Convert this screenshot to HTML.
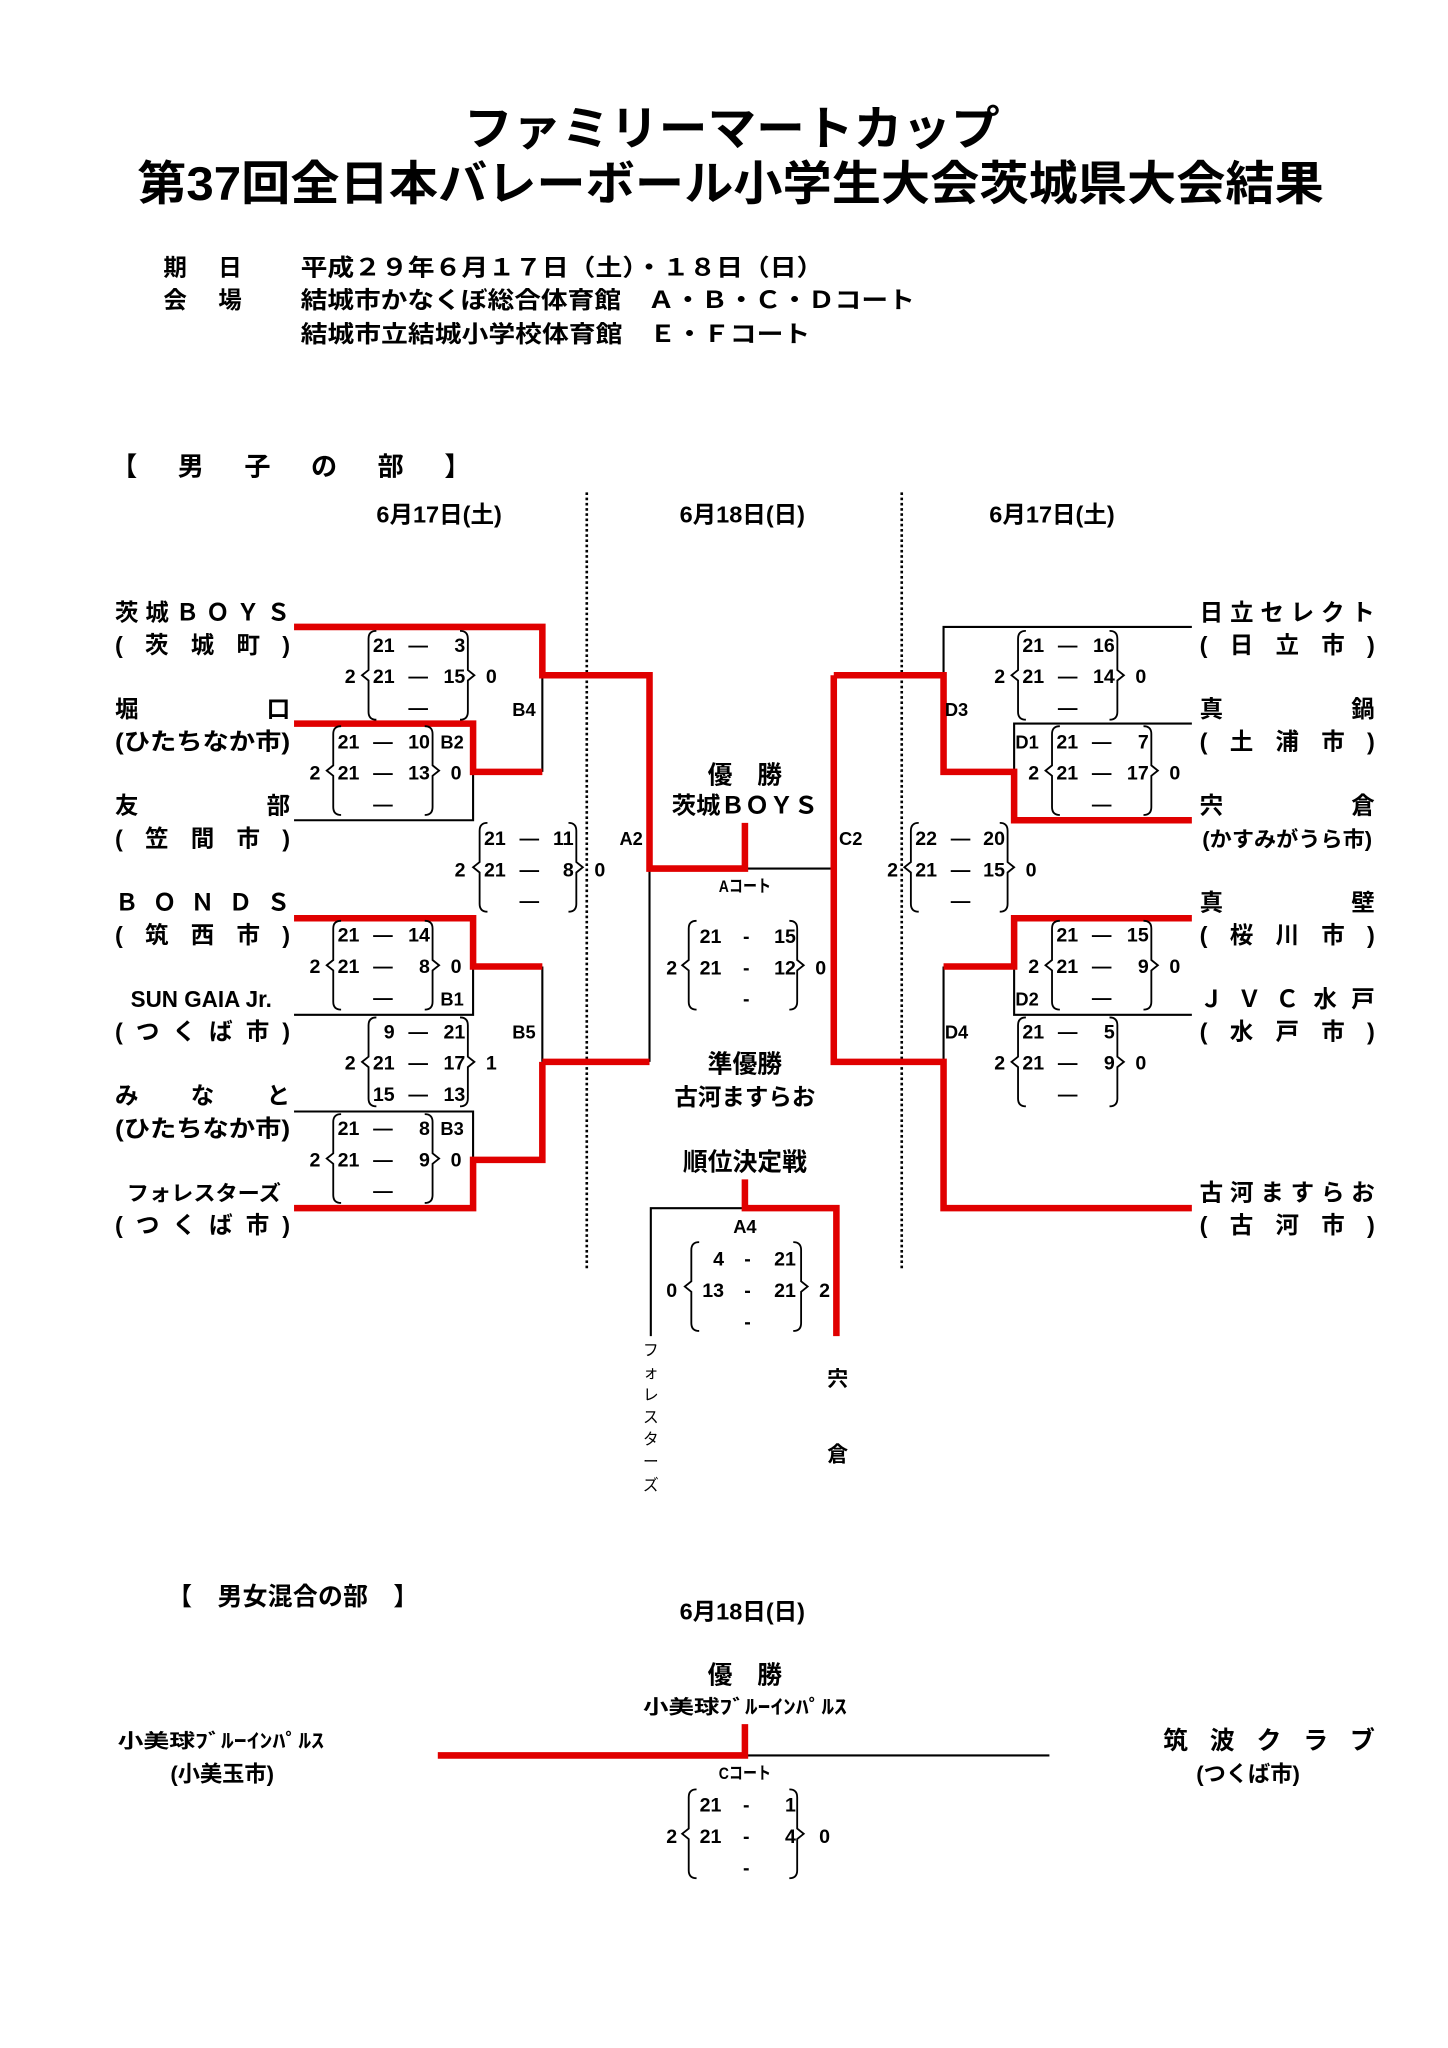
<!DOCTYPE html>
<html><head><meta charset="utf-8"><style>
html,body{margin:0;padding:0;background:#fff}
svg{display:block}
text{font-family:"Liberation Sans","Noto Sans CJK JP",sans-serif;fill:#000}
.t{font-weight:bold}
.s{font-size:15px;font-weight:bold}
.n{font-size:18px;font-weight:bold}
.lb{font-size:14px;font-weight:bold}
</style></head><body>
<svg width="1448" height="2048" viewBox="0 0 1108 1568" preserveAspectRatio="none" xmlns="http://www.w3.org/2000/svg">
<defs>
<path id="lbr" d="M8,0 Q2,0 2,6 L2,30 L-3,34 L2,38 L2,62 Q2,68 8,68" fill="none" stroke="#000" stroke-width="1.4"/>
<path id="rbr" d="M-8,0 Q-2,0 -2,6 L-2,30 L3,34 L-2,38 L-2,62 Q-2,68 -8,68" fill="none" stroke="#000" stroke-width="1.4"/>
</defs>

<text class="t" x="560" y="111" font-size="36" text-anchor="middle" textLength="410" lengthAdjust="spacingAndGlyphs">ファミリーマートカップ</text>
<text class="t" x="559" y="153" font-size="36" text-anchor="middle" textLength="908" lengthAdjust="spacingAndGlyphs">第37回全日本バレーボール小学生大会茨城県大会結果</text>

<text class="t" x="125" y="211" font-size="18" textLength="60" lengthAdjust="spacing">期　日</text>
<text class="t" x="230" y="211" font-size="18" textLength="400" lengthAdjust="spacingAndGlyphs">平成２９年６月１７日（土）・１８日（日）</text>
<text class="t" x="125" y="236" font-size="18" textLength="60" lengthAdjust="spacing">会　場</text>
<text class="t" x="230" y="236" font-size="18" textLength="470" lengthAdjust="spacingAndGlyphs">結城市かなくぼ総合体育館　Ａ・Ｂ・Ｃ・Ｄコート</text>
<text class="t" x="230" y="262" font-size="18" textLength="390" lengthAdjust="spacingAndGlyphs">結城市立結城小学校体育館　Ｅ・Ｆコート</text>

<text class="t" x="85" y="364" font-size="20" textLength="275" lengthAdjust="spacing">【　男　子　の　部　】</text>

<text class="n" x="336" y="400" text-anchor="middle">6月17日(土)</text>
<text class="n" x="568" y="400" text-anchor="middle">6月18日(日)</text>
<text class="n" x="805" y="400" text-anchor="middle">6月17日(土)</text>

<line x1="449" y1="377" x2="449" y2="972" stroke="#000" stroke-width="2" stroke-dasharray="2,2"/>
<line x1="690" y1="377" x2="690" y2="972" stroke="#000" stroke-width="2" stroke-dasharray="2,2"/>

<g class="n" font-size="18">
<text x="88" y="475" textLength="134" lengthAdjust="spacing" font-weight="bold">茨城ＢＯＹＳ</text>
<text x="88" y="500" textLength="134" lengthAdjust="spacing" font-weight="bold">(　茨　城　町　)</text>
<text x="88" y="549" textLength="134" lengthAdjust="spacing" font-weight="bold">堀　　　　　口</text>
<text x="88" y="574" textLength="134" lengthAdjust="spacingAndGlyphs" font-weight="bold">(ひたちなか市)</text>
<text x="88" y="623" textLength="134" lengthAdjust="spacing" font-weight="bold">友　　　　　部</text>
<text x="88" y="648" textLength="134" lengthAdjust="spacing" font-weight="bold">(　笠　間　市　)</text>
<text x="88" y="697" textLength="134" lengthAdjust="spacing" font-weight="bold">Ｂ　Ｏ　Ｎ　Ｄ　Ｓ</text>
<text x="88" y="722" textLength="134" lengthAdjust="spacing" font-weight="bold">(　筑　西　市　)</text>
<text x="100" y="771" textLength="108" lengthAdjust="spacingAndGlyphs" font-weight="bold">SUN GAIA Jr.</text>
<text x="88" y="796" textLength="134" lengthAdjust="spacing" font-weight="bold">(　つ　く　ば　市　)</text>
<text x="88" y="845" textLength="134" lengthAdjust="spacing" font-weight="bold">み　　な　　と</text>
<text x="88" y="870" textLength="134" lengthAdjust="spacingAndGlyphs" font-weight="bold">(ひたちなか市)</text>
<text x="97" y="919" textLength="118" lengthAdjust="spacingAndGlyphs" font-weight="bold" font-size="16">フォレスターズ</text>
<text x="88" y="944" textLength="134" lengthAdjust="spacing" font-weight="bold">(　つ　く　ば　市　)</text>
</g>

<g>
<text x="918" y="475" textLength="134" lengthAdjust="spacing" font-weight="bold" font-size="18">日　立　セ　レ　ク　ト</text>
<text x="918" y="500" textLength="134" lengthAdjust="spacing" font-weight="bold" font-size="18">(　日　立　市　)</text>
<text x="918" y="549" textLength="134" lengthAdjust="spacing" font-weight="bold" font-size="18">真　　　　　鍋</text>
<text x="918" y="574" textLength="134" lengthAdjust="spacing" font-weight="bold" font-size="18">(　土　浦　市　)</text>
<text x="918" y="623" textLength="134" lengthAdjust="spacing" font-weight="bold" font-size="18">宍　　　　　倉</text>
<text x="920" y="648" textLength="130" lengthAdjust="spacingAndGlyphs" font-weight="bold" font-size="16">(かすみがうら市)</text>
<text x="918" y="697" textLength="134" lengthAdjust="spacing" font-weight="bold" font-size="18">真　　　　　壁</text>
<text x="918" y="722" textLength="134" lengthAdjust="spacing" font-weight="bold" font-size="18">(　桜　川　市　)</text>
<text x="918" y="771" textLength="134" lengthAdjust="spacing" font-weight="bold" font-size="18">Ｊ　Ｖ　Ｃ　水　戸</text>
<text x="918" y="796" textLength="134" lengthAdjust="spacing" font-weight="bold" font-size="18">(　水　戸　市　)</text>
<text x="918" y="919" textLength="134" lengthAdjust="spacing" font-weight="bold" font-size="18">古　河　ま　す　ら　お</text>
<text x="918" y="944" textLength="134" lengthAdjust="spacing" font-weight="bold" font-size="18">(　古　河　市　)</text>
</g>

<g stroke="#000" stroke-width="1.6" fill="none">
<path d="M415,517 V591"/>
<path d="M225,628 H362 V591"/>
<path d="M497,665 V813"/>
<path d="M415,740 V813"/>
<path d="M225,777 H362 V740"/>
<path d="M225,851 H362 V888"/>
<path d="M570,665 H638"/>
<path d="M498,1023 V925 H570"/>
<path d="M912,480 H722 V517"/>
<path d="M912,554 H776 V591"/>
<path d="M722,740 V813"/>
<path d="M912,777 H776 V740"/>
<path d="M570,1344 H803"/>
</g>

<g stroke="#e00000" stroke-width="5" fill="none" stroke-linejoin="miter">
<path d="M225,480 H415 V517 H497 V665 H570 V630"/>
<path d="M225,554 H362 V591 H415"/>
<path d="M225,703 H362 V740 H415"/>
<path d="M415,813 H497"/>
<path d="M415,813 V888 H362 V925 H225"/>
<path d="M570,903 V925 H640 V1023"/>
<path d="M638,517 H722 V591 H776 V628 H912"/>
<path d="M638,517 V813 H722 V925 H912"/>
<path d="M912,703 H776 V740 H722"/>
<path d="M335,1344 H570 V1320"/>
</g>

<g class="lb">
<text x="392" y="548">B4</text>
<text x="337" y="573">B2</text>
<text x="474" y="647">A2</text>
<text x="337" y="770">B1</text>
<text x="392" y="795">B5</text>
<text x="337" y="869">B3</text>
<text x="723" y="548">D3</text>
<text x="777" y="573">D1</text>
<text x="642" y="647">C2</text>
<text x="777" y="770">D2</text>
<text x="723" y="795">D4</text>
<text x="570" y="944" text-anchor="middle">A4</text>
</g>
<text x="570" y="683" text-anchor="middle" font-size="13" font-weight="bold" textLength="40" lengthAdjust="spacingAndGlyphs">Aコート</text>

<g>
<use href="#lbr" x="280" y="483"/><use href="#rbr" x="360" y="483"/>
<g class="s"><text x="302" y="499" text-anchor="end">21</text><text x="320" y="499" text-anchor="middle">—</text><text x="356" y="499" text-anchor="end">3</text>
<text x="302" y="523" text-anchor="end">21</text><text x="320" y="523" text-anchor="middle">—</text><text x="356" y="523" text-anchor="end">15</text>
<text x="320" y="547" text-anchor="middle">—</text><text x="268" y="523" text-anchor="middle">2</text><text x="376" y="523" text-anchor="middle">0</text></g>
<use href="#lbr" x="253" y="556"/><use href="#rbr" x="333" y="556"/>
<g class="s"><text x="275" y="573" text-anchor="end">21</text><text x="293" y="573" text-anchor="middle">—</text><text x="329" y="573" text-anchor="end">10</text>
<text x="275" y="597" text-anchor="end">21</text><text x="293" y="597" text-anchor="middle">—</text><text x="329" y="597" text-anchor="end">13</text>
<text x="293" y="621" text-anchor="middle">—</text><text x="241" y="597" text-anchor="middle">2</text><text x="349" y="597" text-anchor="middle">0</text></g>
<use href="#lbr" x="365" y="630"/><use href="#rbr" x="443" y="630"/>
<g class="s"><text x="387" y="647" text-anchor="end">21</text><text x="405" y="647" text-anchor="middle">—</text><text x="439" y="647" text-anchor="end">11</text>
<text x="387" y="671" text-anchor="end">21</text><text x="405" y="671" text-anchor="middle">—</text><text x="439" y="671" text-anchor="end">8</text>
<text x="405" y="695" text-anchor="middle">—</text><text x="352" y="671" text-anchor="middle">2</text><text x="459" y="671" text-anchor="middle">0</text></g>
<use href="#lbr" x="253" y="705"/><use href="#rbr" x="333" y="705"/>
<g class="s"><text x="275" y="721" text-anchor="end">21</text><text x="293" y="721" text-anchor="middle">—</text><text x="329" y="721" text-anchor="end">14</text>
<text x="275" y="745" text-anchor="end">21</text><text x="293" y="745" text-anchor="middle">—</text><text x="329" y="745" text-anchor="end">8</text>
<text x="293" y="769" text-anchor="middle">—</text><text x="241" y="745" text-anchor="middle">2</text><text x="349" y="745" text-anchor="middle">0</text></g>
<use href="#lbr" x="280" y="779"/><use href="#rbr" x="360" y="779"/>
<g class="s"><text x="302" y="795" text-anchor="end">9</text><text x="320" y="795" text-anchor="middle">—</text><text x="356" y="795" text-anchor="end">21</text>
<text x="302" y="819" text-anchor="end">21</text><text x="320" y="819" text-anchor="middle">—</text><text x="356" y="819" text-anchor="end">17</text>
<text x="302" y="843" text-anchor="end">15</text><text x="320" y="843" text-anchor="middle">—</text><text x="356" y="843" text-anchor="end">13</text>
<text x="268" y="819" text-anchor="middle">2</text><text x="376" y="819" text-anchor="middle">1</text></g>
<use href="#lbr" x="253" y="853"/><use href="#rbr" x="333" y="853"/>
<g class="s"><text x="275" y="869" text-anchor="end">21</text><text x="293" y="869" text-anchor="middle">—</text><text x="329" y="869" text-anchor="end">8</text>
<text x="275" y="893" text-anchor="end">21</text><text x="293" y="893" text-anchor="middle">—</text><text x="329" y="893" text-anchor="end">9</text>
<text x="293" y="917" text-anchor="middle">—</text><text x="241" y="893" text-anchor="middle">2</text><text x="349" y="893" text-anchor="middle">0</text></g>
<use href="#lbr" x="525" y="705"/><use href="#rbr" x="612" y="705"/>
<g class="s"><text x="552" y="722" text-anchor="end">21</text><text x="571" y="722" text-anchor="middle">-</text><text x="609" y="722" text-anchor="end">15</text>
<text x="552" y="746" text-anchor="end">21</text><text x="571" y="746" text-anchor="middle">-</text><text x="609" y="746" text-anchor="end">12</text>
<text x="571" y="770" text-anchor="middle">-</text><text x="514" y="746" text-anchor="middle">2</text><text x="628" y="746" text-anchor="middle">0</text></g>
<use href="#lbr" x="527" y="951"/><use href="#rbr" x="615" y="951"/>
<g class="s"><text x="554" y="969" text-anchor="end">4</text><text x="572" y="969" text-anchor="middle">-</text><text x="609" y="969" text-anchor="end">21</text>
<text x="554" y="993" text-anchor="end">13</text><text x="572" y="993" text-anchor="middle">-</text><text x="609" y="993" text-anchor="end">21</text>
<text x="572" y="1017" text-anchor="middle">-</text><text x="514" y="993" text-anchor="middle">0</text><text x="631" y="993" text-anchor="middle">2</text></g>
<use href="#lbr" x="777" y="483"/><use href="#rbr" x="857" y="483"/>
<g class="s"><text x="799" y="499" text-anchor="end">21</text><text x="817" y="499" text-anchor="middle">—</text><text x="853" y="499" text-anchor="end">16</text>
<text x="799" y="523" text-anchor="end">21</text><text x="817" y="523" text-anchor="middle">—</text><text x="853" y="523" text-anchor="end">14</text>
<text x="817" y="547" text-anchor="middle">—</text><text x="765" y="523" text-anchor="middle">2</text><text x="873" y="523" text-anchor="middle">0</text></g>
<use href="#lbr" x="803" y="556"/><use href="#rbr" x="883" y="556"/>
<g class="s"><text x="825" y="573" text-anchor="end">21</text><text x="843" y="573" text-anchor="middle">—</text><text x="879" y="573" text-anchor="end">7</text>
<text x="825" y="597" text-anchor="end">21</text><text x="843" y="597" text-anchor="middle">—</text><text x="879" y="597" text-anchor="end">17</text>
<text x="843" y="621" text-anchor="middle">—</text><text x="791" y="597" text-anchor="middle">2</text><text x="899" y="597" text-anchor="middle">0</text></g>
<use href="#lbr" x="695" y="630"/><use href="#rbr" x="773" y="630"/>
<g class="s"><text x="717" y="647" text-anchor="end">22</text><text x="735" y="647" text-anchor="middle">—</text><text x="769" y="647" text-anchor="end">20</text>
<text x="717" y="671" text-anchor="end">21</text><text x="735" y="671" text-anchor="middle">—</text><text x="769" y="671" text-anchor="end">15</text>
<text x="735" y="695" text-anchor="middle">—</text><text x="683" y="671" text-anchor="middle">2</text><text x="789" y="671" text-anchor="middle">0</text></g>
<use href="#lbr" x="803" y="705"/><use href="#rbr" x="883" y="705"/>
<g class="s"><text x="825" y="721" text-anchor="end">21</text><text x="843" y="721" text-anchor="middle">—</text><text x="879" y="721" text-anchor="end">15</text>
<text x="825" y="745" text-anchor="end">21</text><text x="843" y="745" text-anchor="middle">—</text><text x="879" y="745" text-anchor="end">9</text>
<text x="843" y="769" text-anchor="middle">—</text><text x="791" y="745" text-anchor="middle">2</text><text x="899" y="745" text-anchor="middle">0</text></g>
<use href="#lbr" x="777" y="779"/><use href="#rbr" x="857" y="779"/>
<g class="s"><text x="799" y="795" text-anchor="end">21</text><text x="817" y="795" text-anchor="middle">—</text><text x="853" y="795" text-anchor="end">5</text>
<text x="799" y="819" text-anchor="end">21</text><text x="817" y="819" text-anchor="middle">—</text><text x="853" y="819" text-anchor="end">9</text>
<text x="817" y="843" text-anchor="middle">—</text><text x="765" y="819" text-anchor="middle">2</text><text x="873" y="819" text-anchor="middle">0</text></g>
<use href="#lbr" x="525" y="1370"/><use href="#rbr" x="612" y="1370"/>
<g class="s"><text x="552" y="1387" text-anchor="end">21</text><text x="571" y="1387" text-anchor="middle">-</text><text x="609" y="1387" text-anchor="end">1</text>
<text x="552" y="1411" text-anchor="end">21</text><text x="571" y="1411" text-anchor="middle">-</text><text x="609" y="1411" text-anchor="end">4</text>
<text x="571" y="1435" text-anchor="middle">-</text><text x="514" y="1411" text-anchor="middle">2</text><text x="631" y="1411" text-anchor="middle">0</text></g>
</g>

<text x="570" y="600" text-anchor="middle" font-size="19" font-weight="bold">優　勝</text>
<text x="570" y="623" text-anchor="middle" font-size="18" font-weight="bold" textLength="112" lengthAdjust="spacingAndGlyphs">茨城ＢＯＹＳ</text>
<text x="570" y="821" text-anchor="middle" font-size="19" font-weight="bold">準優勝</text>
<text x="570" y="846" text-anchor="middle" font-size="18" font-weight="bold">古河ますらお</text>
<text x="570" y="896" text-anchor="middle" font-size="19" font-weight="bold">順位決定戦</text>

<g font-size="12">
<text x="498" y="1038" text-anchor="middle">フ</text>
<text x="498" y="1055" text-anchor="middle">ォ</text>
<text x="498" y="1072" text-anchor="middle">レ</text>
<text x="498" y="1089" text-anchor="middle">ス</text>
<text x="498" y="1106" text-anchor="middle">タ</text>
<text x="498" y="1123" text-anchor="middle">ー</text>
<text x="498" y="1141" text-anchor="middle">ズ</text>
</g>
<text x="641" y="1061" text-anchor="middle" font-size="16" font-weight="bold">宍</text>
<text x="641" y="1119" text-anchor="middle" font-size="16" font-weight="bold">倉</text>

<text x="128" y="1229" font-size="19" font-weight="bold" textLength="192" lengthAdjust="spacing">【　男女混合の部　】</text>
<text class="n" x="568" y="1240" text-anchor="middle">6月18日(日)</text>
<text x="570" y="1289" text-anchor="middle" font-size="19" font-weight="bold">優　勝</text>
<text x="570" y="1312" text-anchor="middle" font-size="15" font-weight="bold" textLength="156" lengthAdjust="spacingAndGlyphs">小美球ﾌﾞﾙｰｲﾝﾊﾟﾙｽ</text>
<text x="90" y="1338" font-size="15" font-weight="bold" textLength="158" lengthAdjust="spacingAndGlyphs">小美球ﾌﾞﾙｰｲﾝﾊﾟﾙｽ</text>
<text x="170" y="1364" text-anchor="middle" font-size="17" font-weight="bold">(小美玉市)</text>
<text x="890" y="1339" font-size="19" font-weight="bold" textLength="162" lengthAdjust="spacing">筑　波　ク　ラ　ブ</text>
<text x="955" y="1364" text-anchor="middle" font-size="17" font-weight="bold">(つくば市)</text>
<text x="570" y="1362" text-anchor="middle" font-size="13" font-weight="bold" textLength="40" lengthAdjust="spacingAndGlyphs">Cコート</text>
</svg>
</body></html>
